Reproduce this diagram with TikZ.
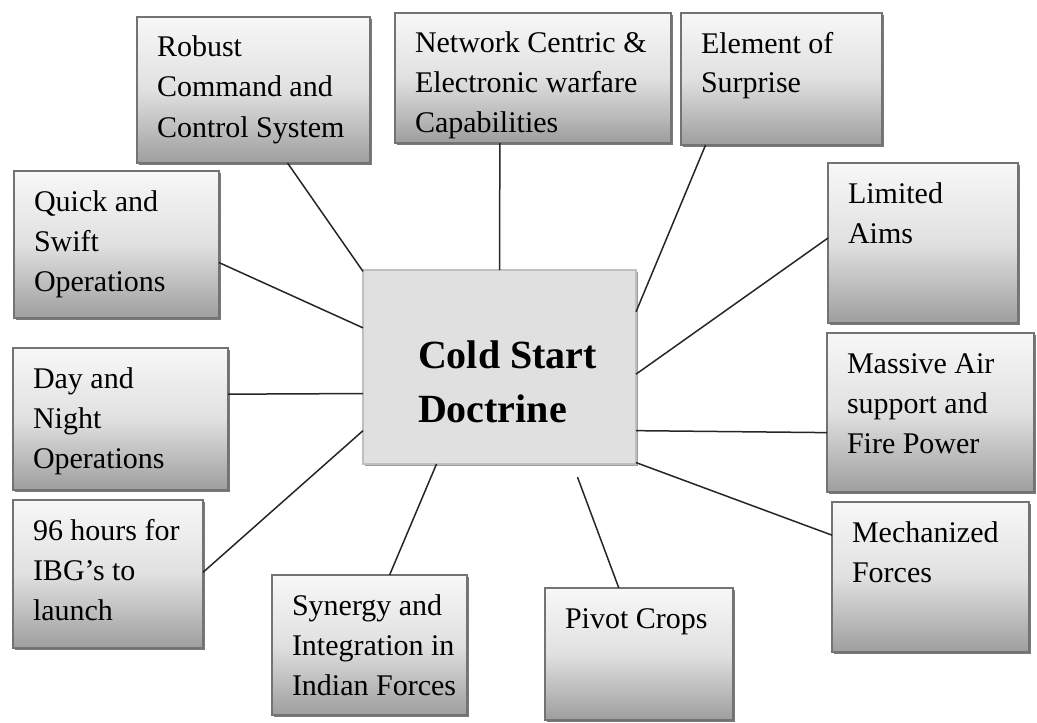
\documentclass[tikz,border=0pt]{standalone}
\usepackage{fontspec}
\setmainfont{Liberation Serif}
\usepackage{tikz}
\usetikzlibrary{shadows,calc}
% box: name, x, y (pixel grid), width, height (pt), text
\newcommand{\doctbox}[6]{
	\node[feat_box, minimum width=#4, minimum height=#5] (#1) at (#2,#3)
		{\parbox[c][#5][t]{#4}{\raggedright\leftskip=10pt\rule{0pt}{20pt}#6}};
}

\begin{document}
\begin{tikzpicture}[x=0.5pt,y=-0.5pt]
		\tikzstyle{feat_box}=[rectangle, draw=black!55, line width=0.6pt, anchor=north west, inner sep=0pt, outer sep=0pt,
			top color=black!3, bottom color=black!38, middle color=black!12,
			drop shadow={shadow xshift=1pt, shadow yshift=-1pt, fill=black!65, opacity=0.8},
			font=\fontsize{15}{20}\selectfont];
		\tikzstyle{core_box}=[rectangle, draw=black!25, line width=0.6pt, anchor=north west, inner sep=0pt, outer sep=0pt,
			fill=black!12,
			drop shadow={shadow xshift=0.8pt, shadow yshift=-0.8pt, fill=black!55, opacity=0.7},
			font=\fontsize{20}{27}\selectfont\bfseries];
		\tikzstyle{link}=[line width=0.75pt, black!85];

		\useasboundingbox (0,0) rectangle (1037,722);

		\node[core_box, minimum width=136.5pt, minimum height=97pt] (cds) at (363,270)
			{\parbox[c][97pt][t]{136.5pt}{\raggedright\leftskip=27.5pt\rule{0pt}{49pt}Cold Start\\Doctrine}};

		\doctbox{b_rob}{137}{17}{116.5pt}{73pt}{Robust\\Command and\\Control System}
		\doctbox{b_net}{395}{13}{138pt}{65pt}{Network Centric \&\\Electronic warfare\\Capabilities}
		\doctbox{b_elem}{681}{13}{100.5pt}{66pt}{Element of\\Surprise}
		\doctbox{b_lim}{828}{163}{95pt}{80pt}{Limited\\Aims}
		\doctbox{b_air}{827}{333}{103.5pt}{79.5pt}{Massive Air\\support and\\Fire Power}
		\doctbox{b_mech}{832}{502}{98.5pt}{75pt}{Mechanized\\Forces}
		\doctbox{b_piv}{545}{588}{94pt}{66pt}{Pivot Crops}
		\doctbox{b_syn}{272}{575}{97.5pt}{70pt}{Synergy and\\Integration in\\Indian Forces}
		\doctbox{b_ibg}{13}{500}{95pt}{74pt}{96 hours for\\IBG’s to\\launch}
		\doctbox{b_day}{13}{348}{107.5pt}{71pt}{Day and\\Night\\Operations}
		\doctbox{b_quick}{14}{171}{102.5pt}{73.5pt}{Quick and\\Swift\\Operations}

		\draw[link] (cds.145) -- (b_rob.-65);
		\draw[link] (cds.90) -- (b_net.-117);
		\draw[link] (cds.22) -- (b_elem.-139);
		\draw[link] (cds.-3) -- (b_lim.177);
		\draw[link] (cds.-25) -- (b_air.191);
		\draw[link] (cds.-35) -- (b_mech.157);
		\draw[link, shorten <=7pt] (cds.-53) -- (b_piv.107);
		\draw[link] (cds.-123) -- (b_syn.74);
		\draw[link] (cds.205) -- (b_ibg.1);
		\draw[link] (cds.191) -- (b_day.13);
		\draw[link] (cds.164) -- (b_quick.-10);
	\end{tikzpicture}
\end{document}
